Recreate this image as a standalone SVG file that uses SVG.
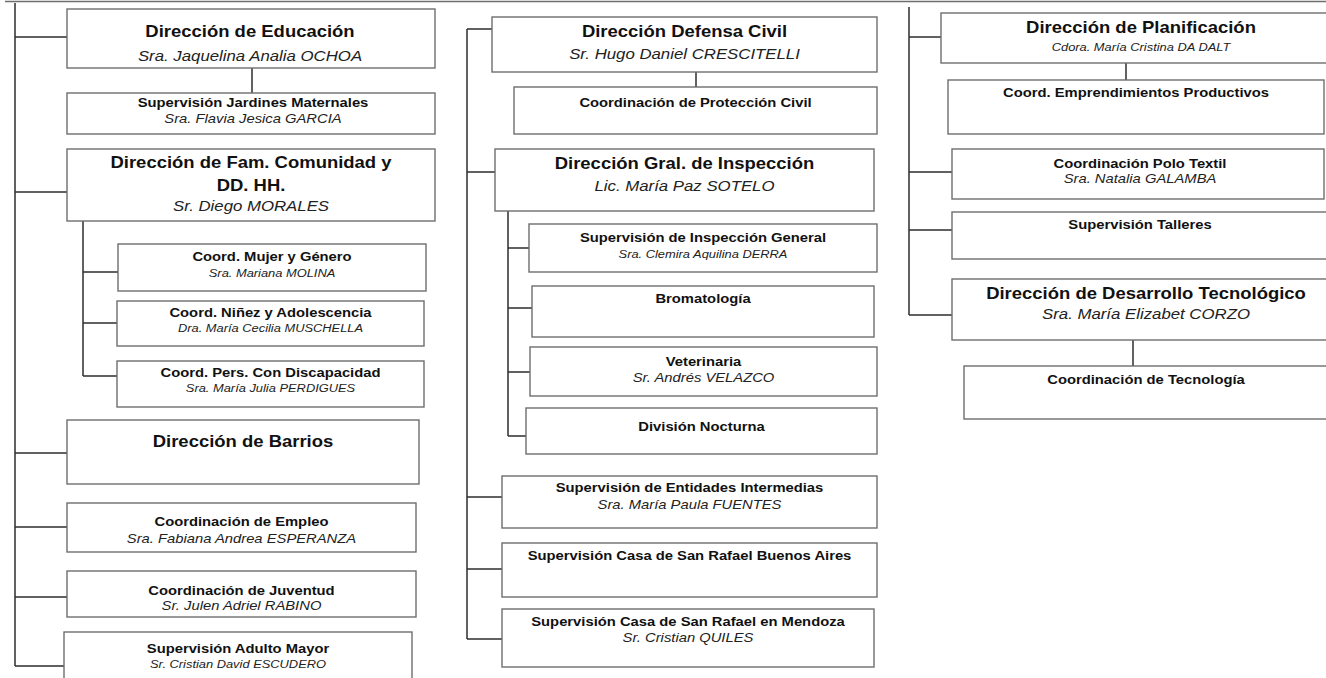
<svg xmlns="http://www.w3.org/2000/svg" width="1326" height="678" viewBox="0 0 1326 678">
  <style>
    .box { fill: #ffffff; stroke: #6e6e6e; stroke-width: 1.4; }
    .wire { fill: none; stroke: #2e2e2e; stroke-width: 1.5; }
    text { font-family: "Liberation Sans", Arial, sans-serif; text-anchor: middle; fill: #111111; }
    .t1 { font-size: 16.5px; font-weight: bold; }
    .n1 { font-size: 15px; font-style: italic; fill: #222222; }
    .t2 { font-size: 13.2px; font-weight: bold; }
    .n2 { font-size: 13.2px; font-style: italic; fill: #222222; }
    .n3 { font-size: 11.5px; font-style: italic; fill: #222222; }
  </style>
  <rect width="1326" height="678" fill="#ffffff"/>
  <line x1="5" y1="1.5" x2="1326" y2="1.5" stroke="#6e6e6e" stroke-width="1.4"/>

  <g id="connectors">
    <!-- column 1 trunk -->
    <path class="wire" d="M15 3 V666 M15 37 H67 M15 192 H67 M15 453 H67 M15 527 H67 M15 597 H67 M15 666 H64"/>
    <path class="wire" d="M252 68 V93"/>
    <path class="wire" d="M83 221 V376 M83 272 H118 M83 323 H117 M83 376 H117"/>
    <!-- column 2 trunk -->
    <path class="wire" d="M467 29 V639 M467 29 H492 M467 172 H495 M467 497 H502 M467 569 H502 M467 639 H502"/>
    <path class="wire" d="M696 72 V87"/>
    <path class="wire" d="M508 211 V436 M508 248 H529 M508 308 H532 M508 372 H530 M508 436 H526"/>
    <!-- column 3 trunk -->
    <path class="wire" d="M909 7 V315 M909 37 H941 M909 172 H952 M909 230 H952 M909 315 H952"/>
    <path class="wire" d="M1126 63 V80"/>
    <path class="wire" d="M1133 340 V366"/>
  </g>

  <!-- column 1 -->
  <g id="dir-educacion">
    <rect class="box" x="67" y="9" width="368" height="59"/>
    <text class="t1" transform="matrix(1.12 0 0 1 250 36.5)">Dirección de Educación</text>
    <text class="n1" transform="matrix(1.12 0 0 1 250 61)">Sra. Jaquelina Analia OCHOA</text>
  </g>
  <g id="sup-jardines">
    <rect class="box" x="67" y="93" width="368" height="41"/>
    <text class="t2" transform="matrix(1.12 0 0 1 253 107)">Supervisión Jardines Maternales</text>
    <text class="n2" transform="matrix(1.12 0 0 1 253 122.7)">Sra. Flavia Jesica GARCIA</text>
  </g>
  <g id="dir-familia">
    <rect class="box" x="67" y="149" width="368" height="72"/>
    <text class="t1" transform="matrix(1.12 0 0 1 251 168.3)">Dirección de Fam. Comunidad y</text>
    <text class="t1" transform="matrix(1.12 0 0 1 251 190.7)">DD. HH.</text>
    <text class="n1" transform="matrix(1.12 0 0 1 251 210.7)">Sr. Diego MORALES</text>
  </g>
  <g id="coord-mujer">
    <rect class="box" x="118" y="244" width="308" height="47"/>
    <text class="t2" transform="matrix(1.12 0 0 1 272 261)">Coord. Mujer y Género</text>
    <text class="n3" transform="matrix(1.12 0 0 1 272 276.7)">Sra. Mariana MOLINA</text>
  </g>
  <g id="coord-ninez">
    <rect class="box" x="117" y="301" width="307" height="45"/>
    <text class="t2" transform="matrix(1.12 0 0 1 270.5 317.3)">Coord. Niñez y Adolescencia</text>
    <text class="n3" transform="matrix(1.12 0 0 1 270.5 331.7)">Dra. María Cecilia MUSCHELLA</text>
  </g>
  <g id="coord-discapacidad">
    <rect class="box" x="117" y="361" width="307" height="46"/>
    <text class="t2" transform="matrix(1.12 0 0 1 270.5 377.3)">Coord. Pers. Con Discapacidad</text>
    <text class="n3" transform="matrix(1.12 0 0 1 270.5 392.3)">Sra. María Julia PERDIGUES</text>
  </g>
  <g id="dir-barrios">
    <rect class="box" x="67" y="420" width="352" height="64"/>
    <text class="t1" transform="matrix(1.12 0 0 1 243 447.3)">Dirección de Barrios</text>
  </g>
  <g id="coord-empleo">
    <rect class="box" x="67" y="503" width="349" height="49"/>
    <text class="t2" transform="matrix(1.12 0 0 1 241.5 526)">Coordinación de Empleo</text>
    <text class="n2" transform="matrix(1.12 0 0 1 241.5 542.7)">Sra. Fabiana Andrea ESPERANZA</text>
  </g>
  <g id="coord-juventud">
    <rect class="box" x="67" y="571" width="349" height="46"/>
    <text class="t2" transform="matrix(1.12 0 0 1 241.5 595)">Coordinación de Juventud</text>
    <text class="n2" transform="matrix(1.12 0 0 1 241.5 610)">Sr. Julen Adriel RABINO</text>
  </g>
  <g id="sup-adulto-mayor">
    <rect class="box" x="64" y="632" width="348" height="60"/>
    <text class="t2" transform="matrix(1.12 0 0 1 238 652.7)">Supervisión Adulto Mayor</text>
    <text class="n3" transform="matrix(1.12 0 0 1 238 667.7)">Sr. Cristian David ESCUDERO</text>
  </g>

  <!-- column 2 -->
  <g id="dir-defensa-civil">
    <rect class="box" x="492" y="17" width="385" height="55"/>
    <text class="t1" transform="matrix(1.12 0 0 1 684.5 36.7)">Dirección Defensa Civil</text>
    <text class="n1" transform="matrix(1.12 0 0 1 684.5 59.3)">Sr. Hugo Daniel CRESCITELLI</text>
  </g>
  <g id="coord-proteccion">
    <rect class="box" x="514" y="87" width="363" height="47"/>
    <text class="t2" transform="matrix(1.12 0 0 1 695.5 107.3)">Coordinación de Protección Civil</text>
  </g>
  <g id="dir-inspeccion">
    <rect class="box" x="495" y="149" width="379" height="62"/>
    <text class="t1" transform="matrix(1.12 0 0 1 684.5 169)">Dirección Gral. de Inspección</text>
    <text class="n1" transform="matrix(1.12 0 0 1 684.5 190.7)">Lic. María Paz SOTELO</text>
  </g>
  <g id="sup-inspeccion-general">
    <rect class="box" x="529" y="224" width="348" height="48"/>
    <text class="t2" transform="matrix(1.12 0 0 1 703 241.7)">Supervisión de Inspección General</text>
    <text class="n3" transform="matrix(1.12 0 0 1 703 258.3)">Sra. Clemira Aquilina DERRA</text>
  </g>
  <g id="bromatologia">
    <rect class="box" x="532" y="286" width="342" height="51"/>
    <text class="t2" transform="matrix(1.12 0 0 1 703 302.7)">Bromatología</text>
  </g>
  <g id="veterinaria">
    <rect class="box" x="530" y="347" width="347" height="49"/>
    <text class="t2" transform="matrix(1.12 0 0 1 703.5 366)">Veterinaria</text>
    <text class="n2" transform="matrix(1.12 0 0 1 703.5 381.7)">Sr. Andrés VELAZCO</text>
  </g>
  <g id="division-nocturna">
    <rect class="box" x="526" y="408" width="351" height="46"/>
    <text class="t2" transform="matrix(1.12 0 0 1 701.5 430.7)">División Nocturna</text>
  </g>
  <g id="sup-entidades">
    <rect class="box" x="502" y="476" width="375" height="52"/>
    <text class="t2" transform="matrix(1.12 0 0 1 689.5 491.7)">Supervisión de Entidades Intermedias</text>
    <text class="n2" transform="matrix(1.12 0 0 1 689.5 509)">Sra. María Paula FUENTES</text>
  </g>
  <g id="sup-casa-ba">
    <rect class="box" x="502" y="543" width="375" height="54"/>
    <text class="t2" transform="matrix(1.12 0 0 1 689.5 560)">Supervisión Casa de San Rafael Buenos Aires</text>
  </g>
  <g id="sup-casa-mendoza">
    <rect class="box" x="502" y="609" width="372" height="58"/>
    <text class="t2" transform="matrix(1.12 0 0 1 688 625.7)">Supervisión Casa de San Rafael en Mendoza</text>
    <text class="n2" transform="matrix(1.12 0 0 1 688 642.3)">Sr. Cristian QUILES</text>
  </g>

  <!-- column 3 -->
  <g id="dir-planificacion">
    <rect class="box" x="941" y="13" width="400" height="50"/>
    <text class="t1" transform="matrix(1.12 0 0 1 1141 33.3)">Dirección de Planificación</text>
    <text class="n3" transform="matrix(1.12 0 0 1 1141 50.7)">Cdora. María Cristina DA DALT</text>
  </g>
  <g id="coord-emprendimientos">
    <rect class="box" x="948" y="80" width="376" height="54"/>
    <text class="t2" transform="matrix(1.12 0 0 1 1136 97.3)">Coord. Emprendimientos Productivos</text>
  </g>
  <g id="coord-polo-textil">
    <rect class="box" x="952" y="149" width="372" height="50"/>
    <text class="t2" transform="matrix(1.12 0 0 1 1140 168.3)">Coordinación Polo Textil</text>
    <text class="n2" transform="matrix(1.12 0 0 1 1140 183.3)">Sra. Natalia GALAMBA</text>
  </g>
  <g id="sup-talleres">
    <rect class="box" x="952" y="212" width="380" height="47"/>
    <text class="t2" transform="matrix(1.12 0 0 1 1140 229.3)">Supervisión Talleres</text>
  </g>
  <g id="dir-desarrollo-tecnologico">
    <rect class="box" x="952" y="279" width="390" height="61"/>
    <text class="t1" transform="matrix(1.12 0 0 1 1146 299)">Dirección de Desarrollo Tecnológico</text>
    <text class="n1" transform="matrix(1.12 0 0 1 1146 319.3)">Sra. María Elizabet CORZO</text>
  </g>
  <g id="coord-tecnologia">
    <rect class="box" x="964" y="366" width="370" height="53"/>
    <text class="t2" transform="matrix(1.12 0 0 1 1146 384)">Coordinación de Tecnología</text>
  </g>
</svg>
